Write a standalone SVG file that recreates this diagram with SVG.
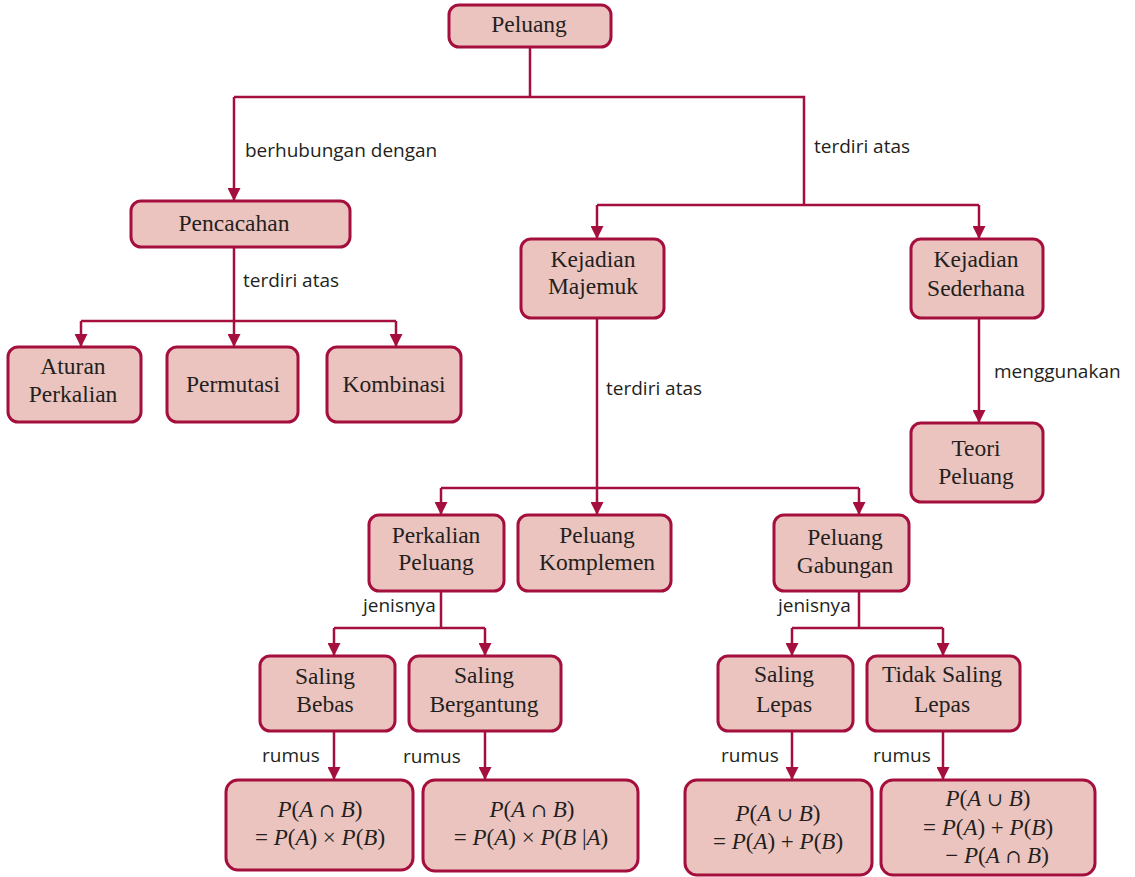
<svg xmlns="http://www.w3.org/2000/svg" width="1135" height="877" viewBox="0 0 1135 877">
<style>
  .box { fill: #ebc4bf; stroke: #a50f3d; stroke-width: 3; }
  .t { font-family: "Liberation Serif", "Times New Roman", serif; font-size: 23.5px; fill: #231f20; text-anchor: middle; }
  .f { font-family: "Liberation Serif", "Times New Roman", serif; font-size: 23px; fill: #231f20; text-anchor: middle; }
  .i { font-style: italic; }
  .s { font-family: "DejaVu Serif", serif; font-size: 19px; }
  .lbl { font-family: "Open Sans", "Noto Sans", sans-serif; font-size: 19px; fill: #231f20; }
  .c { fill: none; stroke: #a50f3d; stroke-width: 2.5; }
  .a { marker-end: url(#arr); }
</style>
<defs>
  <marker id="arr" viewBox="0 0 12 12" refX="12" refY="6" markerWidth="13" markerHeight="13" markerUnits="userSpaceOnUse" orient="auto">
    <path d="M0,0 L12,6 L0,12 z" fill="#a50f3d"/>
  </marker>
</defs>
<rect width="1135" height="877" fill="#ffffff"/>

<g id="connectors">
  <path class="c" d="M530 47 V97 M234 97 H804 V205 M597 205 H979"/>
  <path class="c a" d="M234 97 V201"/>
  <path class="c a" d="M597 205 V239"/>
  <path class="c a" d="M979 205 V239"/>
  <path class="c" d="M81 321 H396"/>
  <path class="c a" d="M234 247 V347"/>
  <path class="c a" d="M81 321 V347"/>
  <path class="c a" d="M396 321 V347"/>
  <path class="c a" d="M979 318 V423"/>
  <path class="c" d="M441 488 H859"/>
  <path class="c a" d="M597 318 V515"/>
  <path class="c a" d="M441 488 V515"/>
  <path class="c a" d="M859 488 V515"/>
  <path class="c" d="M441 591 V628 M334 628 H485"/>
  <path class="c a" d="M334 628 V656"/>
  <path class="c a" d="M485 628 V656"/>
  <path class="c" d="M859 591 V628 M792 628 H943"/>
  <path class="c a" d="M792 628 V656"/>
  <path class="c a" d="M943 628 V656"/>
  <path class="c a" d="M334 731 V780"/>
  <path class="c a" d="M485 731 V780"/>
  <path class="c a" d="M792 731 V780"/>
  <path class="c a" d="M943 731 V780"/>
</g>

<g id="labels">
  <text class="lbl" x="245" y="157">berhubungan dengan</text>
  <text class="lbl" x="814" y="153">terdiri atas</text>
  <text class="lbl" x="243" y="287">terdiri atas</text>
  <text class="lbl" x="606" y="395">terdiri atas</text>
  <text class="lbl" x="994" y="378">menggunakan</text>
  <text class="lbl" x="363" y="612">jenisnya</text>
  <text class="lbl" x="778" y="612">jenisnya</text>
  <text class="lbl" x="262" y="762">rumus</text>
  <text class="lbl" x="403" y="763">rumus</text>
  <text class="lbl" x="721" y="762">rumus</text>
  <text class="lbl" x="873" y="762">rumus</text>
</g>

<g id="peluang">
  <rect class="box" x="449" y="5" width="162" height="42" rx="10"/>
  <text class="t" x="529" y="32">Peluang</text>
</g>
<g id="pencacahan">
  <rect class="box" x="131" y="201" width="219" height="46" rx="10"/>
  <text class="t" x="234" y="231">Pencacahan</text>
</g>
<g id="aturan-perkalian">
  <rect class="box" x="8" y="347" width="133" height="75" rx="10"/>
  <text class="t" x="73" y="374">Aturan</text>
  <text class="t" x="73" y="402">Perkalian</text>
</g>
<g id="permutasi">
  <rect class="box" x="167" y="347" width="131" height="75" rx="10"/>
  <text class="t" x="233" y="392">Permutasi</text>
</g>
<g id="kombinasi">
  <rect class="box" x="327" y="347" width="134" height="75" rx="10"/>
  <text class="t" x="394" y="392">Kombinasi</text>
</g>
<g id="kejadian-majemuk">
  <rect class="box" x="521" y="239" width="143" height="79" rx="10"/>
  <text class="t" x="593" y="267">Kejadian</text>
  <text class="t" x="593" y="294">Majemuk</text>
</g>
<g id="kejadian-sederhana">
  <rect class="box" x="911" y="239" width="132" height="79" rx="10"/>
  <text class="t" x="976" y="267">Kejadian</text>
  <text class="t" x="976" y="296">Sederhana</text>
</g>
<g id="teori-peluang">
  <rect class="box" x="911" y="423" width="132" height="79" rx="10"/>
  <text class="t" x="976" y="456">Teori</text>
  <text class="t" x="976" y="484">Peluang</text>
</g>
<g id="perkalian-peluang">
  <rect class="box" x="369" y="515" width="135" height="76" rx="10"/>
  <text class="t" x="436" y="543">Perkalian</text>
  <text class="t" x="436" y="570">Peluang</text>
</g>
<g id="peluang-komplemen">
  <rect class="box" x="518" y="515" width="153" height="76" rx="10"/>
  <text class="t" x="597" y="543">Peluang</text>
  <text class="t" x="597" y="570">Komplemen</text>
</g>
<g id="peluang-gabungan">
  <rect class="box" x="774" y="515" width="135" height="76" rx="10"/>
  <text class="t" x="845" y="545">Peluang</text>
  <text class="t" x="845" y="573">Gabungan</text>
</g>
<g id="saling-bebas">
  <rect class="box" x="260" y="656" width="135" height="75" rx="10"/>
  <text class="t" x="325" y="684">Saling</text>
  <text class="t" x="325" y="712">Bebas</text>
</g>
<g id="saling-bergantung">
  <rect class="box" x="409" y="656" width="152" height="75" rx="10"/>
  <text class="t" x="484" y="683">Saling</text>
  <text class="t" x="484" y="712">Bergantung</text>
</g>
<g id="saling-lepas">
  <rect class="box" x="718" y="656" width="135" height="75" rx="10"/>
  <text class="t" x="784" y="682">Saling</text>
  <text class="t" x="784" y="712">Lepas</text>
</g>
<g id="tidak-saling-lepas">
  <rect class="box" x="867" y="656" width="153" height="75" rx="10"/>
  <text class="t" x="942" y="682">Tidak Saling</text>
  <text class="t" x="942" y="712">Lepas</text>
</g>
<g id="rumus-bebas">
  <rect class="box" x="226" y="780" width="187" height="90" rx="12"/>
  <text class="f" x="320" y="817"><tspan class="i">P</tspan>(<tspan class="i">A</tspan> <tspan class="s">∩</tspan> <tspan class="i">B</tspan>)</text>
  <text class="f" x="320" y="845">= <tspan class="i">P</tspan>(<tspan class="i">A</tspan>) × <tspan class="i">P</tspan>(<tspan class="i">B</tspan>)</text>
</g>
<g id="rumus-bergantung">
  <rect class="box" x="423" y="780" width="215" height="91" rx="12"/>
  <text class="f" x="532" y="817"><tspan class="i">P</tspan>(<tspan class="i">A</tspan> <tspan class="s">∩</tspan> <tspan class="i">B</tspan>)</text>
  <text class="f" x="531" y="845">= <tspan class="i">P</tspan>(<tspan class="i">A</tspan>) × <tspan class="i">P</tspan>(<tspan class="i">B</tspan> |<tspan class="i">A</tspan>)</text>
</g>
<g id="rumus-lepas">
  <rect class="box" x="685" y="780" width="187" height="95" rx="12"/>
  <text class="f" x="778" y="821"><tspan class="i">P</tspan>(<tspan class="i">A</tspan> <tspan class="s">∪</tspan> <tspan class="i">B</tspan>)</text>
  <text class="f" x="778" y="849">= <tspan class="i">P</tspan>(<tspan class="i">A</tspan>) + <tspan class="i">P</tspan>(<tspan class="i">B</tspan>)</text>
</g>
<g id="rumus-tidak-lepas">
  <rect class="box" x="881" y="780" width="214" height="95" rx="12"/>
  <text class="f" x="988" y="806"><tspan class="i">P</tspan>(<tspan class="i">A</tspan> <tspan class="s">∪</tspan> <tspan class="i">B</tspan>)</text>
  <text class="f" x="988" y="835">= <tspan class="i">P</tspan>(<tspan class="i">A</tspan>) + <tspan class="i">P</tspan>(<tspan class="i">B</tspan>)</text>
  <text class="f" x="997" y="863">− <tspan class="i">P</tspan>(<tspan class="i">A</tspan> <tspan class="s">∩</tspan> <tspan class="i">B</tspan>)</text>
</g>
</svg>
